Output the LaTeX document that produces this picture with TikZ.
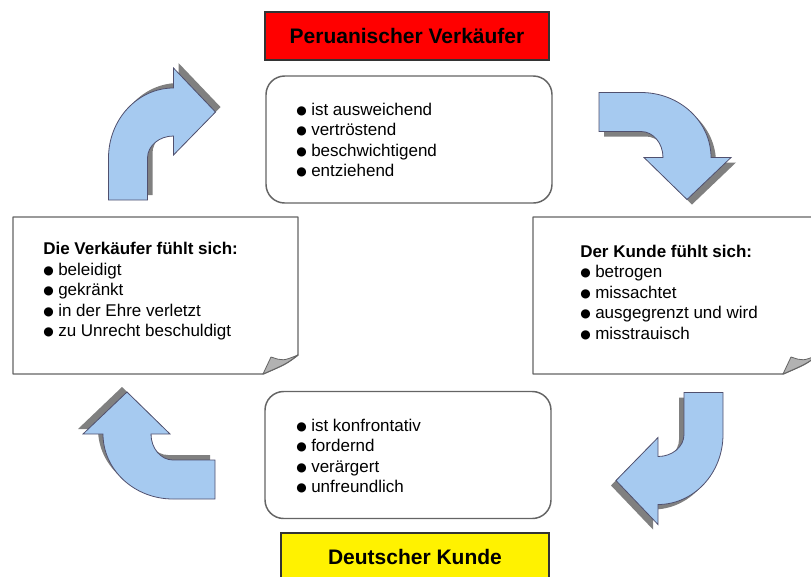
\documentclass[tikz,border=0pt]{standalone}
\usepackage{fontspec}
\setmainfont{Liberation Sans}
\newfontfamily\symfont{DejaVu Sans}
\usetikzlibrary{positioning}

\definecolor{arrowfill}{RGB}{166,202,240}
\definecolor{arrowline}{RGB}{80,80,110}
\definecolor{shadegray}{RGB}{128,128,128}
\definecolor{framegray}{RGB}{100,100,100}
\definecolor{flapgray}{RGB}{178,178,178}

\newcommand{\bul}{\makebox[11.25pt][l]{\raisebox{0.7pt}{\symfont\fontsize{9}{9}\selectfont ●}}}
\newcommand{\bendpath}{(-53,66) -- (-14,66) -- (-14,24)
  arc[start angle=180, end angle=270, x radius=26, y radius=22]
  -- (12,21) -- (54,-22) -- (12,-66) -- (12,-46)
  arc[start angle=270, end angle=180, x radius=65, y radius=70] -- cycle}

\tikzset{
  pics/bendarrow/.style={code={
    \fill[shadegray, shift={(5,-5)}] \bendpath;
    \filldraw[fill=arrowfill, draw=arrowline, line width=0.6pt] \bendpath;
  }},
  pics/note/.style={code={
    \filldraw[fill=white, draw=framegray, line width=1.1pt, line join=round]
      (0,0) -- (285,0) -- (285,138) .. controls (273,147) .. (250,157) -- (0,157) -- cycle;
    \filldraw[fill=flapgray, draw=framegray, line width=0.6pt, line join=round]
      (250,157) -- (258,140) .. controls (270,144) .. (285,138) .. controls (273,147) .. (250,157) -- cycle;
  }}
}

\begin{document}
\begin{tikzpicture}[x=0.75pt, y=-0.75pt,
  roundbox/.style = {draw=framegray, line width=1.1pt, fill=white,
    rounded corners=14pt, minimum width=214.5pt, minimum height=95.25pt},
  titlebox/.style = {draw=black!80, line width=0.8pt, minimum height=36pt,
    font=\bfseries\fontsize{15.75}{18}\selectfont},
  txt/.style = {anchor=west, align=left, inner sep=0pt,
    font=\fontsize{12.75}{15.375}\selectfont}
  ]
  \useasboundingbox (0,0) rectangle (811,576);
  \clip (0,0) rectangle (811,576);

  % cycle arrows
  \pic at (161.5,134) {bendarrow};
  \pic[rotate=-90] at (665,145.5) {bendarrow};
  \pic[rotate=180] at (670,458.5) {bendarrow};
  \pic[rotate=90] at (149,446) {bendarrow};

  % feelings
  \pic at (13,217) {note};
  \pic at (533,217) {note};

  \node (seller-box) [roundbox] at (409,139.5) {};
  \node (customer-box) [roundbox] at (408,455) {};

  \node (seller-title) [titlebox, fill=red, minimum width=213pt] at (407,36) {Peruanischer Verkäufer};
  \node (customer-title) [titlebox, fill=yellow, minimum width=201pt] at (415,557) {Deutscher Kunde};

  \node (seller-list) [txt] at (296,140) {\bul ist ausweichend\\ \bul vertröstend\\
    \bul beschwichtigend\\ \bul entziehend};
  \node (customer-list) [txt] at (296,456) {\bul ist konfrontativ\\ \bul fordernd\\
    \bul verärgert\\ \bul unfreundlich};
  \node (seller-feels) [txt] at (43,291.5) {\textbf{Die Verkäufer fühlt sich:}\\
    \bul beleidigt\\ \bul gekränkt\\ \bul in der Ehre verletzt\\ \bul zu Unrecht beschuldigt};
  \node (customer-feels) [txt] at (580,292.5) {\textbf{Der Kunde fühlt sich:}\\
    \bul betrogen\\ \bul missachtet\\ \bul ausgegrenzt und wird\\ \bul misstrauisch};
\end{tikzpicture}
\end{document}
